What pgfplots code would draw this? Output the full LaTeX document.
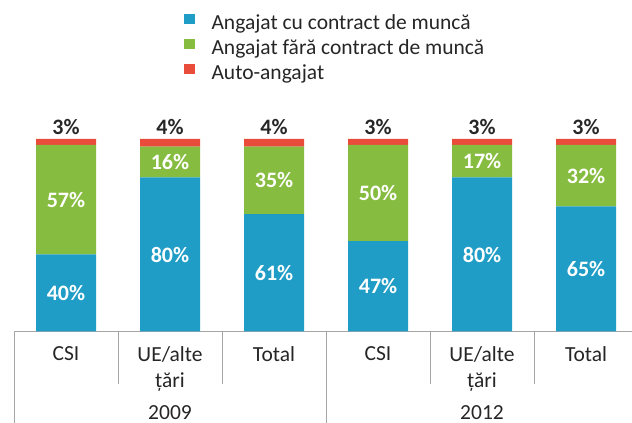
\documentclass[border=0pt]{standalone}
\usepackage{fontspec}
\setmainfont{Carlito}
\usepackage{pgfplots}
\usepackage{pgfplotstable}
\pgfplotsset{compat=1.18}
\definecolor{cblue}{HTML}{1F9DC6}
\definecolor{cgreen}{HTML}{86BC3F}
\definecolor{cred}{HTML}{E94C3B}
\definecolor{sepgray}{HTML}{A6A6A6}
\definecolor{txt}{HTML}{262626}

% stacked shares (%)
\pgfplotstableread{
x blue green red
0 40 57 3
1 80 16 4
2 61 35 4
3 47 50 3
4 80 17 3
5 65 32 3
}\shares

% label positions (segment centres) and values
\pgfplotstableread{
x y v
0 20 40
1 40 80
2 30.5 61
3 23.5 47
4 40 80
5 32.5 65
}\lblblue
\pgfplotstableread{
x y v
0 68.5 57
1 88 16
2 78.5 35
3 72 50
4 88.5 17
5 81 32
}\lblgreen
\pgfplotstableread{
x y v
0 100 3
1 100 4
2 100 4
3 100 3
4 100 3
5 100 3
}\lblred

\newcommand{\lblfont}{\fontsize{21.5}{26}\selectfont}
\newcommand{\datfont}{\bfseries\fontsize{22}{26}\selectfont}

\begin{document}
\begin{tikzpicture}
\path[use as bounding box] (0pt,0pt) rectangle (632pt,423pt);
\begin{axis}[
  at={(14pt,91.5pt)}, anchor=south west,
  scale only axis, width=617.8pt, height=192.5pt,
  xmin=-0.5, xmax=5.44, ymin=0, ymax=100,
  ybar stacked, bar width=60pt,
  axis y line=none, axis x line*=bottom,
  x axis line style={draw=sepgray, line width=0.8pt, -},
  xtick={0,1,2,3,4,5},
  xticklabels={CSI,{UE/alte\\țări},Total,CSI,{UE/alte\\țări},Total},
  xticklabel style={align=center, anchor=north, inner sep=0pt, yshift=-14.5pt, font=\lblfont, text=txt},
  xtick style={draw=none},
  major tick length=0pt,
  clip=false,
  legend cell align=left,
  legend style={at={(0.2752,1.6494)}, anchor=north west, draw=none, fill=none,
    inner sep=0pt, outer sep=0pt, row sep=4pt, font=\lblfont,
    nodes={inner sep=0pt, text height=16pt, text depth=5pt, text=txt}},
]
\addplot[fill=cblue, draw=none,
  legend image code/.code={\fill[cblue] (0.5pt,0.5pt) rectangle (11.5pt,10.5pt); \path (28pt,0pt);}]
  table[x=x, y=blue] {\shares};
\addplot[fill=cgreen, draw=none,
  legend image code/.code={\fill[cgreen] (0.5pt,0.5pt) rectangle (11.5pt,10.5pt); \path (28pt,0pt);}]
  table[x=x, y=green] {\shares};
\addplot[fill=cred, draw=none,
  legend image code/.code={\fill[cred] (0.5pt,0.5pt) rectangle (11.5pt,10.5pt); \path (28pt,0pt);}]
  table[x=x, y=red] {\shares};
\legend{Angajat cu contract de muncă, Angajat fără contract de muncă, Auto-angajat}
% category separators
\draw[sepgray, line width=0.8pt] (axis cs:0.5,0) -- ++(0pt,-53pt);
\draw[sepgray, line width=0.8pt] (axis cs:1.5,0) -- ++(0pt,-53pt);
\draw[sepgray, line width=0.8pt] (axis cs:3.5,0) -- ++(0pt,-53pt);
\draw[sepgray, line width=0.8pt] (axis cs:4.5,0) -- ++(0pt,-53pt);
\draw[sepgray, line width=0.8pt] (axis cs:-0.5,0) -- ++(0pt,-95pt);
\draw[sepgray, line width=0.8pt] (axis cs:2.5,0) -- ++(0pt,-95pt);
\node[anchor=base, font=\lblfont, text=txt, inner sep=0pt] at (axis cs:1,0) [yshift=-88pt] {2009};
\node[anchor=base, font=\lblfont, text=txt, inner sep=0pt] at (axis cs:4,0) [yshift=-88pt] {2012};
\end{axis}
\begin{axis}[
  at={(14pt,91.5pt)}, anchor=south west,
  scale only axis, width=617.8pt, height=192.5pt,
  xmin=-0.5, xmax=5.44, ymin=0, ymax=100,
  hide axis, clip=false,
  point meta=explicit,
  nodes near coords={\pgfmathprintnumber[assume math mode=true]{\pgfplotspointmeta}\%},
]
\addplot[draw=none, mark=none,
  every node near coord/.append style={anchor=center, text=white, font=\datfont, inner sep=0pt}]
  table[x=x, y=y, meta=v] {\lblblue};
\addplot[draw=none, mark=none,
  every node near coord/.append style={anchor=center, text=white, font=\datfont, inner sep=0pt}]
  table[x=x, y=y, meta=v] {\lblgreen};
\addplot[draw=none, mark=none,
  every node near coord/.append style={anchor=base, yshift=4pt, text=txt, font=\datfont, inner sep=0pt}]
  table[x=x, y=y, meta=v] {\lblred};
\end{axis}
\end{tikzpicture}
\end{document}
